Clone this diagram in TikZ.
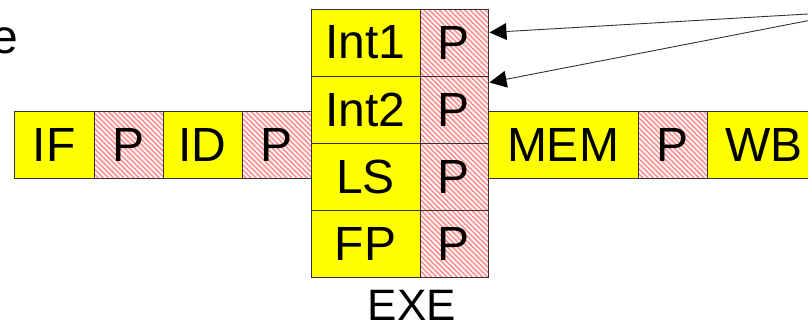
\documentclass[tikz,border=0pt]{standalone}
\usepackage{fontspec}
\setmainfont{Liberation Sans}
\usetikzlibrary{patterns.meta,arrows.meta}
\definecolor{stageyellow}{RGB}{255,255,0}
\definecolor{latchpink}{RGB}{255,150,150}
\definecolor{edgegray}{RGB}{50,50,50}
\tikzset{
  box/.style={draw=edgegray, line width=1pt, minimum height=67pt, inner sep=0pt,
              font=\fontsize{48}{54}\selectfont},
  stage/.style={box, fill=stageyellow},
  latch/.style={box, pattern={Lines[angle=-45,distance=3.6pt,line width=1.8pt]},
                pattern color=latchpink},
  pointer/.style={draw=edgegray, line width=0.9pt,
                  {Triangle[length=17pt,width=17pt,fill=black,line width=0pt]}-}
}
\begin{document}
\begin{tikzpicture}[x=1pt,y=-1pt]
\useasboundingbox (0,0) rectangle (808,324);

% front-end stages
\node[stage, minimum width=80pt] (if)  at (54,144.5)  {IF};
\node[latch, minimum width=69pt] (pif) at (128.5,144.5) {P};
\node[stage, minimum width=79pt] (id)  at (202.5,144.5) {ID};
\node[latch, minimum width=69pt] (pid) at (276.5,144.5) {P};

% parallel execute units
\node[stage, minimum width=109pt] (int1) at (365.5,42.5)  {Int1};
\node[latch, minimum width=68pt]  (pint1) at (454,42.5)   {P};
\node[stage, minimum width=109pt] (int2) at (365.5,109.5) {Int2};
\node[latch, minimum width=68pt]  (pint2) at (454,109.5)  {P};
\node[stage, minimum width=109pt] (ls)   at (365.5,176.5) {LS};
\node[latch, minimum width=68pt]  (pls)  at (454,176.5)   {P};
\node[stage, minimum width=109pt] (fp)   at (365.5,243.5) {FP};
\node[latch, minimum width=68pt]  (pfp)  at (454,243.5)   {P};
\node[anchor=base, inner sep=0pt, font=\fontsize{44}{50}\selectfont] (exe) at (412,320) {EXE};

% back-end stages
\node[stage, minimum width=150pt] (mem)  at (563,144.5)   {MEM};
\node[latch, minimum width=69pt]  (pmem) at (672.5,144.5) {P};
\node[stage, minimum width=114pt] (wb)   at (764,144.5)   {WB};

% annotation pointing at the integer latches
\node[anchor=base east, inner sep=0pt, font=\fontsize{48}{54}\selectfont] (note) at (18,53) {e};
\coordinate (src1) at (830,12.7);
\coordinate (src2) at (830,16.4);
\draw[pointer] ([xshift=1pt,yshift=10pt]pint1.east) -- (src1);
\draw[pointer] ([xshift=1pt,yshift=27pt]pint2.east) -- (src2);
\end{tikzpicture}
\end{document}
